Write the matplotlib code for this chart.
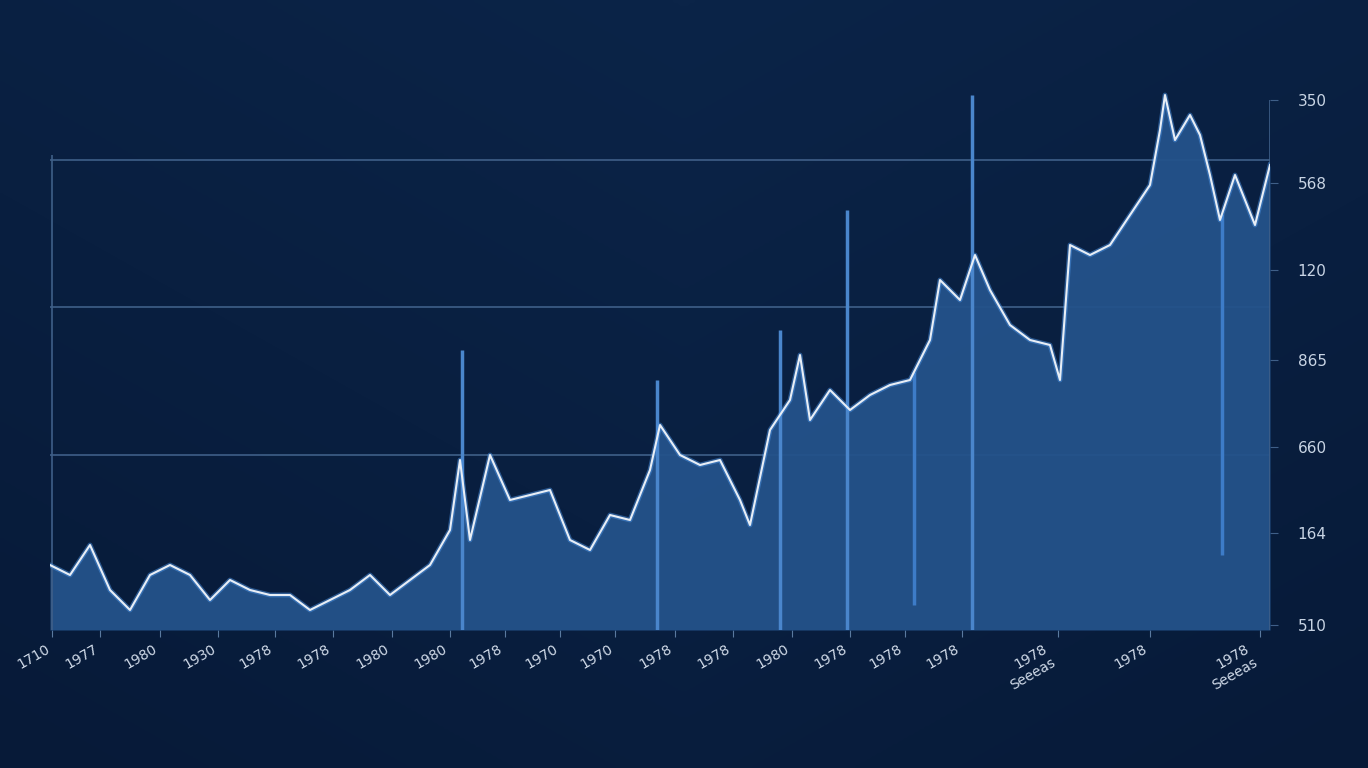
import numpy as np
from matplotlib import pyplot as plt

# series (x position, value)
xs = [50,70,90,110,130,150,170,190,210,230,250,270,290,310,330,350,370,390,410,430,450,460,470,490,510,530,550,570,590,610,630,650,660,680,700,720,740,750,770,790,800,810,830,850,870,890,910,930,940,960,975,990,1010,1030,1050,1060,1070,1090,1110,1130,1150,1160,1165,1175,1190,1200,1210,1220,1235,1255,1270]
vals = [13,11,17,8,4,11,13,11,6,10,8,7,7,4,6,8,11,7,10,13,20,34,18,35,26,27,28,18,16,23,22,32,41,35,33,34,26,21,40,46,55,42,48,44,47,49,50,58,70,66,75,68,61,58,57,50,77,75,77,83,89,100,107,98,103,99,91,82,91,81,93]
spike_x = [462,657,780,847,972]
spike_top = [56,50,60,84,107]
dip_x = [914,1222]
dip_bottom = [5,15]
grid_y = [35,64.6,94]
ytick_pos = [1,19.4,36.6,54,72,89.4,106]
ytick_lab = ["510","164","660","865","120","568","350"]
xtick_pos = [52,100,160,218,275,333,392,450,505,560,615,675,733,792,850,905,962,1058,1150,1260]
xtick_lab = ["1710","1977","1980","1930","1978","1978","1980","1980","1978","1970","1970","1978","1978","1980","1978","1978","1978","1978\nSeeeas","1978","1978\nSeeeas"]

fig = plt.figure(figsize=(13.68,7.68), dpi=100)
bg = fig.add_axes([0,0,1,1])
g = np.linspace(0,1,256)
grad = np.outer(np.linspace(0,1,256), np.ones(256)) * 0.5 + np.outer(np.ones(256), np.abs(g-0.5)) * 0.5
bg.imshow(grad, cmap=plt.matplotlib.colors.LinearSegmentedColormap.from_list("b", ["#0b2448","#071a38"]), aspect='auto', extent=[0,1,0,1])
bg.axis('off')

ax = fig.add_axes([50/1368, 138/768, 1220/1368, 550/768])
ax.patch.set_alpha(0)
for gy in grid_y:
    ax.axhline(gy, color="#3f5f88", lw=1.2, zorder=1)
ax.fill_between(xs, vals, 0, color="#24528a", alpha=0.95, zorder=2, lw=0)
ax.vlines(spike_x, 0, spike_top, color="#4a86cc", lw=2.5, zorder=3)
for dx, db in zip(dip_x, dip_bottom):
    ax.vlines(dx, db, np.interp(dx, xs, vals), color="#3d7cc8", lw=2.5, zorder=3)
ax.plot(xs, vals, color="#4a90e0", lw=3.5, alpha=0.5, zorder=4)
ax.plot(xs, vals, color="#e8eef6", lw=1.5, zorder=5)
ax.vlines(52, 0, 95, color="#3f5f88", lw=1.2)
ax.vlines(1270, 0, 106, color="#3f5f88", lw=1.2)
for s in ax.spines.values():
    s.set_visible(False)
ax.set_yticks(ytick_pos)
ax.set_yticklabels(ytick_lab)
ax.yaxis.tick_right()
ax.tick_params(axis='y', colors="#c8d4e4", labelsize=11, length=6, color="#3f5f88", pad=14)
ax.set_xticks(xtick_pos)
ax.set_xticklabels(xtick_lab, rotation=30, ha='right')
ax.tick_params(axis='x', colors="#d0dae8", labelsize=10, length=5, color="#5a7aa0")
ax.set_xlim(50,1270)
ax.set_ylim(0,110)
fig.savefig("out.png", dpi=100)
